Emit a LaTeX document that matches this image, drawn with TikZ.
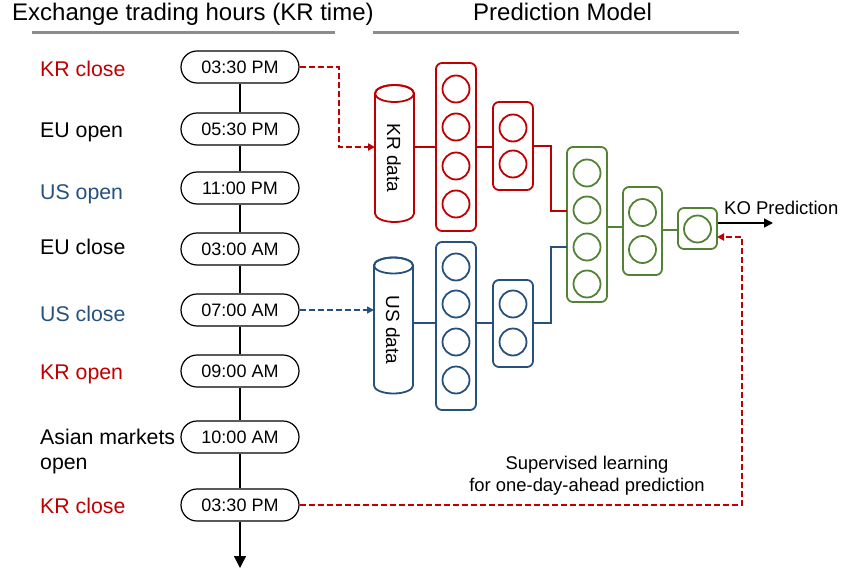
\documentclass[tikz,border=0pt]{standalone}
\usepackage{fontspec}
\setmainfont{Liberation Sans}
\usetikzlibrary{arrows.meta}
\definecolor{krred}{RGB}{192,0,0}
\definecolor{usblue}{RGB}{38,80,125}
\definecolor{nngreen}{RGB}{84,130,53}
\definecolor{rulegray}{RGB}{140,140,140}
\begin{document}
\begin{tikzpicture}[x=1pt,y=1pt,
  pill/.style={draw=black, line width=1.2pt, rounded corners=16pt, minimum width=118pt, minimum height=32pt, inner sep=0pt, font=\fontsize{18}{20}\selectfont},
  lab/.style={anchor=base west, inner sep=0pt, font=\fontsize{21.3}{25}\selectfont},
  ttl/.style={anchor=base west, inner sep=0pt, font=\fontsize{24}{28}\selectfont},
  layer/.style={draw, line width=1.8pt, rounded corners=6pt, minimum width=40pt, inner sep=0pt},
  neuron/.style={draw, circle, line width=1.8pt, minimum size=27pt, inner sep=0pt},
  link/.style={line width=1.8pt},
  cylbox/.style={inner sep=0pt, minimum width=39pt},
  cyltxt/.style={rotate=-90, inner sep=0pt, font=\fontsize{19}{22}\selectfont},
  dashlink/.style={dash pattern=on 6pt off 3pt, line width=1.8pt, -{Triangle[width=7pt,length=7pt]}},
  rule/.style={line width=3pt, rulegray}
]
\useasboundingbox (0,0) rectangle (841,-573);

% titles
\node[ttl] (t1) at (12,-20) {Exchange trading hours (KR time)};
\node[ttl] (t2) at (473,-20) {Prediction Model};
\draw[rule] (32,-32) -- (335,-32);
\draw[rule] (373,-32) -- (739,-32);

% timeline pills
\node[pill] (p1) at (240,-67) {03:30 PM};
\node[pill] (p2) at (240,-129) {05:30 PM};
\node[pill] (p3) at (240,-188) {11:00 PM};
\node[pill] (p4) at (240,-249) {03:00 AM};
\node[pill] (p5) at (240,-310) {07:00 AM};
\node[pill] (p6) at (240,-371) {09:00 AM};
\node[pill] (p7) at (240,-437) {10:00 AM};
\node[pill] (p8) at (240,-505) {03:30 PM};
\coordinate (tend) at (240,-568);
\draw[line width=1.2pt] (p1) -- (p2) -- (p3) -- (p4) -- (p5) -- (p6) -- (p7) -- (p8);
\draw[line width=1.4pt, -{Triangle[width=12pt,length=12pt]}] (p8.south) -- (tend);

% labels
\node[lab, krred] (l1) at (40,-76.5) {KR close};
\node[lab] (l2) at (40,-137.5) {EU open};
\node[lab, usblue] (l3) at (40,-199.5) {US open};
\node[lab] (l4) at (40,-254.5) {EU close};
\node[lab, usblue] (l5) at (40,-321.5) {US close};
\node[lab, krred] (l6) at (40,-379.5) {KR open};
\node[lab, anchor=north west, align=left, font=\fontsize{21.3}{25}\selectfont] (l7) at (40,-429) {Asian markets\\open};
\node[lab, krred] (l8) at (40,-513.5) {KR close};

% KR data cylinder
\draw[krred, line width=1.8pt, fill=white] (375,-93.5) -- (375,-213.5)
  arc[start angle=180, end angle=360, x radius=19.5, y radius=8.5] -- (414,-93.5)
  arc[start angle=0, end angle=180, x radius=19.5, y radius=8.5] -- cycle;
\draw[krred, line width=1.8pt] (394.5,-93.5) ellipse[x radius=19.5, y radius=8.5];
\node[cylbox, minimum height=137pt] (krcyl) at (394.5,-153.5) {};
\node[cyltxt] (krtxt) at (394,-158) {KR data};

% US data cylinder
\draw[usblue, line width=1.8pt, fill=white] (374,-265.5) -- (374,-385.5)
  arc[start angle=180, end angle=360, x radius=19.5, y radius=8] -- (413,-265.5)
  arc[start angle=0, end angle=180, x radius=19.5, y radius=8] -- cycle;
\draw[usblue, line width=1.8pt] (393.5,-265.5) ellipse[x radius=19.5, y radius=8];
\node[cylbox, minimum height=135pt] (uscyl) at (393.5,-329.5) {};
\node[cyltxt] (ustxt) at (393,-330) {US data};

% KR layers
\node[layer, draw=krred, minimum height=168pt] (krbig) at (456,-147) {};
\node[neuron, draw=krred] (kr1) at (456,-89) {};
\node[neuron, draw=krred] (kr2) at (456,-127) {};
\node[neuron, draw=krred] (kr3) at (456,-166) {};
\node[neuron, draw=krred] (kr4) at (456,-204) {};
\node[layer, draw=krred, minimum height=88pt] (krsm) at (513,-146) {};
\node[neuron, draw=krred] (kr5) at (513,-128) {};
\node[neuron, draw=krred] (kr6) at (513,-164) {};

% US layers
\node[layer, draw=usblue, minimum height=168pt] (usbig) at (456,-326) {};
\node[neuron, draw=usblue] (us1) at (456,-267) {};
\node[neuron, draw=usblue] (us2) at (456,-304) {};
\node[neuron, draw=usblue] (us3) at (456,-342) {};
\node[neuron, draw=usblue] (us4) at (456,-380) {};
\node[layer, draw=usblue, minimum height=87pt] (ussm) at (513,-323.5) {};
\node[neuron, draw=usblue] (us5) at (513,-304) {};
\node[neuron, draw=usblue] (us6) at (513,-342) {};

% green layers
\node[layer, draw=nngreen, minimum height=155pt] (gbig) at (587,-224.5) {};
\node[neuron, draw=nngreen] (g1) at (587,-173) {};
\node[neuron, draw=nngreen] (g2) at (587,-210) {};
\node[neuron, draw=nngreen] (g3) at (587,-247) {};
\node[neuron, draw=nngreen] (g4) at (587,-284) {};
\node[layer, draw=nngreen, minimum width=39pt, minimum height=88pt] (gmid) at (642.5,-231) {};
\node[neuron, draw=nngreen] (g5) at (642.5,-212.5) {};
\node[neuron, draw=nngreen] (g6) at (642.5,-249.5) {};
\node[layer, draw=nngreen, minimum width=39pt, minimum height=41pt] (gsm) at (697.5,-228.5) {};
\node[neuron, draw=nngreen] (g7) at (697.5,-229) {};

% links
\coordinate (kj) at (567,-211);
\coordinate (uj) at (567,-247);
\draw[link, krred] (krbig.west -| krcyl.east) -- (krbig.west);
\draw[link, krred] (krbig.east) -- (krbig.east -| krsm.west);
\draw[link, krred] (krsm.east) -- ++(17,0) |- (kj);
\draw[link, usblue] (uscyl.east |- 0,-323) -- (usbig.west |- 0,-323);
\draw[link, usblue] (usbig.east |- 0,-323) -- (ussm.west |- 0,-323);
\draw[link, usblue] (ussm.east |- 0,-323) -- ++(17,0) |- (uj);
\draw[link, nngreen] (gbig.east |- 0,-227) -- (gmid.west |- 0,-227);
\draw[link, nngreen] (gmid.east |- 0,-230) -- (gsm.west |- 0,-230);

% output
\coordinate (oend) at (773,-223);
\draw[line width=1.5pt, -{Triangle[width=9pt,length=9pt]}] (gsm.east |- oend) -- (oend);
\node[anchor=base west, inner sep=0pt, font=\fontsize{18.5}{22}\selectfont] (ko) at (724,-214) {KO Prediction};

% dashed inputs
\coordinate (krin) at (375,-147);
\coordinate (usin) at (374,-310);
\draw[dashlink, krred] (p1.east) -- ++(39,0) |- (krin);
\draw[dashlink, usblue, line width=1.5pt] (p5.east) -- (usin);

% supervised learning feedback
\coordinate (supcorner) at (742,-237);
\coordinate (supend) at (717,-237);
\draw[dashlink, krred] (p8.east) -| (supcorner) -- (supend);
\node[align=center, inner sep=0pt, font=\fontsize{18.4}{22}\selectfont] (sup) at (587,-476) {Supervised learning\\for one-day-ahead prediction};
\end{tikzpicture}
\end{document}
